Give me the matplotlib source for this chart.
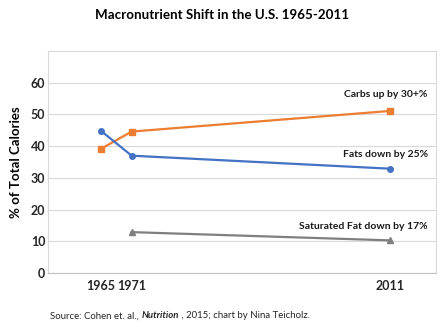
import numpy as np
import matplotlib.pyplot as plt

plt.rcParams['font.family'] = ['Lato', 'DejaVu Sans']

years = [1965, 1971, 2011]
carbs = [39.1, 44.6, 51.1]
fats = [44.9, 37.0, 32.9]
sat_years = [1971, 2011]
sat_fat = [12.9, 10.3]

labels = ['Carbs up by 30+%', 'Fats down by 25%', 'Saturated Fat down by 17%']
label_y = [56.2, 37.5, 14.8]

blue = '#4472C4'
orange = '#ED7D31'
gray = '#7F7F7F'

# the source chart spaces the years unevenly (category-like axis)
knots_yr = [1900, 1965, 1971, 2011, 2100]
knots_px = [100.7 - 65 * 5.17, 100.7, 131.7, 390, 390 + 89 * 6.46]
fwd = lambda x: np.interp(x, knots_yr, knots_px)
inv = lambda p: np.interp(p, knots_px, knots_yr)

fig = plt.figure(figsize=(4.44, 3.27), dpi=100)
ax = fig.add_axes([0.108, 0.165, 0.874, 0.679])
ax.set_xscale('function', functions=(fwd, inv))

ax.plot(years, carbs, color=orange, lw=1.6, marker='s', ms=4, zorder=3)
ax.plot(years, fats, color=blue, lw=1.6, marker='o', ms=4, zorder=3)
ax.plot(sat_years, sat_fat, color=gray, lw=1.6, marker='^', ms=4, zorder=3)

for txt, y in zip(labels, label_y):
    ax.text(0.979, y, txt, transform=ax.get_yaxis_transform(), ha='right',
            va='center', fontsize=7.5, fontweight='bold', color='#1a1a1a')

ax.set_xlim(inv(48), inv(436))
ax.set_ylim(0, 70)
ax.set_yticks(range(0, 70, 10))
ax.set_xticks(years)
ax.set_xticklabels([str(y) for y in years])
ax.minorticks_off()
ax.grid(axis='y', color='#D9D9D9', lw=0.8)
ax.set_axisbelow(True)
for s in ax.spines.values():
    s.set_color('#D9D9D9')
    s.set_linewidth(0.8)
ax.spines['bottom'].set_color('#BFBFBF')
ax.tick_params(length=0, labelsize=9, pad=2)
for lab in ax.get_xticklabels() + ax.get_yticklabels():
    lab.set_fontweight('bold')
    lab.set_color('#262626')
ax.tick_params(axis='x', pad=5)

ax.set_ylabel('% of Total Calories', fontsize=9.5, fontweight='bold', labelpad=6)
fig.text(0.5, 0.955, 'Macronutrient Shift in the U.S. 1965-2011', ha='center',
         va='center', fontsize=9.6, fontweight='bold')

# source line, pieces with different styles
fig.canvas.draw()
r = fig.canvas.get_renderer()
x0 = 50
parts = [('Source: Cohen et. al., ', 'normal', 'normal'),
         ('Nutrition', 'bold', 'italic'),
         (' , 2015; chart by Nina Teicholz.', 'normal', 'normal')]
for t, w, st in parts:
    tt = fig.text(x0 / 444, 1 - 316 / 327, t, fontsize=6.9, fontweight=w,
                  fontstyle=st, va='center', color='#262626')
    x0 = tt.get_window_extent(r).x1

fig.savefig('out.png', dpi=100)
